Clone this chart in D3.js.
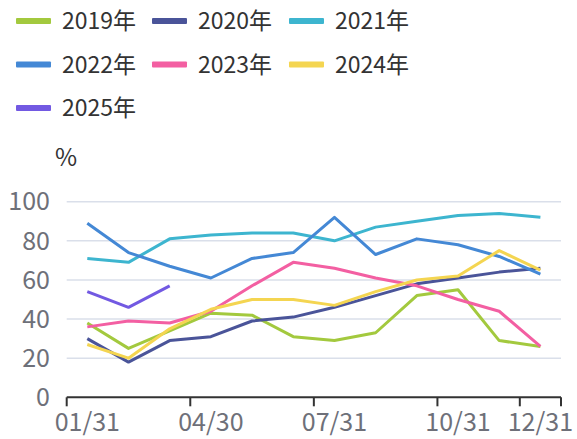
<!DOCTYPE html>
<html>
<head>
<meta charset="utf-8">
<script src="https://cdn.jsdelivr.net/npm/d3@7"></script>
<style>
  html, body { margin: 0; padding: 0; background: #fff; }
  svg { display: block; font-family: "Noto Sans CJK SC", "Noto Sans", sans-serif; }
</style>
</head>
<body>
<div id="chart"></div>
<script>
// months on the category axis
const months = ["01/31", "02/28", "03/31", "04/30", "05/31", "06/30",
  "07/31", "08/31", "09/30", "10/31", "11/30", "12/31"];
const shownLabels = ["01/31", "04/30", "07/31", "10/31", "12/31"];
const yTicks = [0, 20, 40, 60, 80, 100];

// series values (%)
const y2019 = [38, 25, 34, 43, 42, 31, 29, 33, 52, 55, 29, 26];
const y2020 = [30, 18, 29, 31, 39, 41, 46, 52, 58, 61, 64, 66];
const y2021 = [71, 69, 81, 83, 84, 84, 80, 87, 90, 93, 94, 92];
const y2022 = [89, 74, 67, 61, 71, 74, 92, 73, 81, 78, 72, 63];
const y2023 = [36, 39, 38, 44, 57, 69, 66, 61, 57, 50, 44, 26];
const y2024 = [27, 20, 35, 45, 50, 50, 47, 54, 60, 62, 75, 65];
const y2025 = [54, 46, 57];

const seriesNames = ["2019年", "2020年", "2021年", "2022年", "2023年", "2024年", "2025年"];
const seriesColors = ["#a3c93e", "#4a5499", "#3db5cf", "#4488d5", "#f35fa2", "#f4d551", "#7259e2"];

const series = [y2019, y2020, y2021, y2022, y2023, y2024, y2025].map((values, i) => ({
  name: seriesNames[i],
  color: seriesColors[i],
  values,
}));

const width = 577;
const height = 439;

const svg = d3.select("#chart")
  .append("svg")
  .attr("width", width)
  .attr("height", height);

const x = d3.scaleBand().domain(months).range([66.7, 561]);
const y = d3.scaleLinear().domain([0, 100]).range([397.3, 201.7]);

// grid lines
svg.append("g")
  .selectAll("line")
  .data(yTicks.filter((d) => d > 0))
  .join("line")
  .attr("x1", 66.7)
  .attr("x2", 561)
  .attr("y1", (d) => y(d))
  .attr("y2", (d) => y(d))
  .attr("stroke", "#dadfea")
  .attr("stroke-width", 1.6);

// y labels
svg.append("g")
  .selectAll("text")
  .data(yTicks)
  .join("text")
  .attr("x", 50)
  .attr("y", (d) => y(d))
  .attr("dy", "0.35em")
  .attr("text-anchor", "end")
  .attr("fill", "#6e7079")
  .attr("font-size", 25)
  .text((d) => d);

// axis name
svg.append("text")
  .attr("x", 55)
  .attr("y", 158)
  .attr("dy", "0.35em")
  .attr("fill", "#333")
  .attr("font-size", 24)
  .text("%");

// x axis: ticks at band boundaries of shown labels, labels at band centers
const xAxis = svg.append("g");
xAxis.append("line")
  .attr("x1", 66.7)
  .attr("x2", 561)
  .attr("y1", y(0))
  .attr("y2", y(0))
  .attr("stroke", "#333")
  .attr("stroke-width", 2);

const tickPos = shownLabels.map((m) => x(m)).concat([x.range()[1]]);
xAxis.selectAll(".tick")
  .data(tickPos)
  .join("line")
  .attr("class", "tick")
  .attr("x1", (d) => d)
  .attr("x2", (d) => d)
  .attr("y1", y(0))
  .attr("y2", y(0) + 9)
  .attr("stroke", "#333")
  .attr("stroke-width", 2);

xAxis.selectAll("text")
  .data(shownLabels)
  .join("text")
  .attr("x", (d) => x(d) + x.bandwidth() / 2)
  .attr("y", 422)
  .attr("dy", "0.35em")
  .attr("text-anchor", "middle")
  .attr("fill", "#6e7079")
  .attr("font-size", 25)
  .text((d) => d);

// lines
const line = d3.line()
  .x((d, i) => x(months[i]) + x.bandwidth() / 2)
  .y((d) => y(d));

svg.append("g")
  .selectAll("path")
  .data(series)
  .join("path")
  .attr("fill", "none")
  .attr("stroke", (d) => d.color)
  .attr("stroke-width", 3)
  .attr("stroke-linejoin", "round")
  .attr("d", (d) => line(d.values));

// legend, three per row
const legendX = [16, 152, 289];
const legendY = [21, 64.5, 108];
const legend = svg.append("g")
  .selectAll("g")
  .data(series)
  .join("g")
  .attr("transform", (d, i) => `translate(${legendX[i % 3]},${legendY[Math.floor(i / 3)]})`);

legend.append("rect")
  .attr("x", 0)
  .attr("y", -3)
  .attr("width", 35)
  .attr("height", 6)
  .attr("rx", 1)
  .attr("fill", (d) => d.color);

legend.append("text")
  .attr("x", 46)
  .attr("y", 0)
  .attr("dy", "0.35em")
  .attr("fill", "#333")
  .attr("font-size", 23)
  .text((d) => d.name);
</script>
</body>
</html>
